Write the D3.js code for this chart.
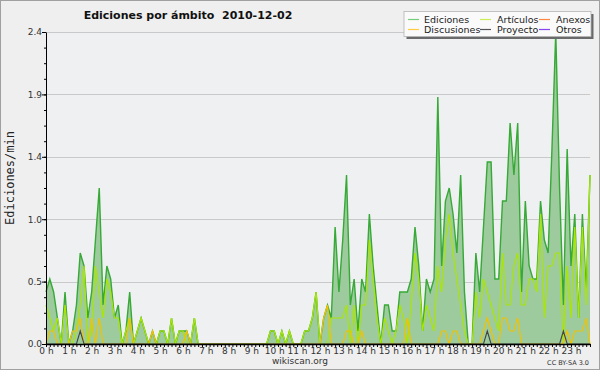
<!DOCTYPE html>
<html>
<head>
<meta charset="utf-8">
<script src="https://cdn.jsdelivr.net/npm/d3@7"></script>
<style>
  body { margin: 0; background: #fff; }
  svg { display: block; font-family: "DejaVu Sans", sans-serif; }
</style>
</head>
<body>
<div id="chart"></div>
<script>
// chart values, one point every 10 minutes (0 h 00 -> 23 h 50)
let hourLabels = ["0 h","1 h","2 h","3 h","4 h","5 h","6 h","7 h","8 h","9 h","10 h","11 h",
  "12 h","13 h","14 h","15 h","16 h","17 h","18 h","19 h","20 h","21 h","22 h","23 h"];

let yTickValues = [0, 0.48, 0.96, 1.44, 1.92, 2.4];
let yTickLabels = ["0.0", "0.5", "1.0", "1.4", "1.9", "2.4"];

let ediciones = [
  0.4,0.5,0.4,0.2,0,0.4,0,0.1,0.3,0.7,0.6,0.2,
  0.4,0.8,1.2,0.3,0.6,0.5,0.2,0.3,0,0.1,0.4,0,
  0.1,0.2,0.1,0,0.1,0,0.1,0.1,0,0.2,0,0.1,
  0.1,0.1,0,0.2,0,0,0,0,0,0,0,0,
  0,0,0,0,0,0,0,0,0,0,0,0.1,
  0.1,0,0.1,0,0.1,0,0,0,0.1,0.1,0.2,0.4,
  0,0.2,0.3,0.2,0.9,0.4,0.8,1.3,0.3,0.5,0.1,0.5,
  0.4,1.0,0.6,0.3,0,0.3,0.3,0.1,0.1,0.4,0.4,0.4,
  0.5,0.9,0.6,0.1,0.5,0.4,0.5,1.9,0.6,1.1,1.2,1.0,
  0.7,1.3,0.4,0,0,0.7,0.4,0.9,1.4,1.4,0.5,0.5,
  1.1,1.1,1.7,1.3,1.7,0.4,1.1,0.6,0.5,0.5,1.1,0.8,
  0.7,1.5,2.4,1.2,0.3,1.5,0.6,1.0,0.2,1.0,0.4,1.3
];

let articulos = [
  0.3,0.2,0.1,0.2,0,0.3,0,0,0.1,0.3,0.6,0,
  0.1,0.6,0.4,0.2,0.5,0.4,0.2,0.2,0,0.1,0.2,0,
  0.1,0.2,0.1,0,0,0,0.1,0.1,0,0.2,0,0.1,
  0.1,0,0,0.2,0,0,0,0,0,0,0,0,
  0,0,0,0,0,0,0,0,0,0,0,0.1,
  0.1,0,0.1,0,0.1,0,0,0,0.1,0.1,0.2,0.4,
  0,0,0,0.2,0.2,0.2,0.2,0.3,0,0.3,0,0.3,
  0.3,0.8,0.5,0.2,0,0.2,0.1,0,0.1,0.3,0.2,0,
  0.3,0.7,0.5,0.1,0.3,0.2,0.1,0.6,0.4,0.8,1.0,0.7,
  0.5,0.3,0.1,0,0,0.4,0.2,0.5,0.4,0.3,0.2,0.1,
  0.7,0.3,0.3,0.6,0.7,0.3,0.3,0.5,0.5,0.4,1.0,0.2,
  0.6,0.6,0.7,0.7,0,0.6,0.2,0.9,0.2,0.9,0.3,1.3
];

let discusiones = [
  0,0.1,0.1,0,0,0,0,0.1,0.1,0.2,0,0,
  0.2,0,0.2,0,0,0,0,0,0,0,0.2,0,
  0,0,0,0,0.1,0,0,0,0,0,0,0,
  0,0.1,0,0,0,0,0,0,0,0,0,0,
  0,0,0,0,0,0,0,0,0,0,0,0,
  0,0,0,0,0,0,0,0,0,0,0,0,
  0,0.2,0.3,0,0,0,0,0.1,0.1,0,0,0.1,
  0,0,0,0,0,0,0,0,0,0,0,0.2,
  0,0,0,0,0,0,0,0,0.1,0.1,0,0.1,
  0.1,0,0,0,0,0,0,0.1,0.2,0.1,0,0,
  0.2,0.2,0.1,0.1,0.2,0,0,0,0,0,0,0,
  0,0,0,0,0,0.1,0,0.1,0.1,0.1,0.2,0
];

let proyecto = [
  0,0,0,0,0,0,0,0,0,0.1,0,0,
  0,0,0,0,0,0,0,0,0,0,0,0,
  0,0,0,0,0,0,0,0,0,0,0,0,
  0,0,0,0,0,0,0,0,0,0,0,0,
  0,0,0,0,0,0,0,0,0,0,0,0,
  0,0,0,0,0,0,0,0,0,0,0,0,
  0,0,0,0,0,0,0,0,0,0,0,0,
  0,0,0,0,0,0,0,0,0,0,0,0,
  0,0,0,0,0,0,0,0,0,0,0,0,
  0,0,0,0,0,0,0,0,0.1,0,0,0,
  0,0,0,0,0,0,0,0,0,0,0,0,
  0,0,0,0,0.1,0,0,0,0,0,0,0
];

let legendNames = ["Ediciones", "Artículos", "Anexos", "Discusiones", "Proyecto", "Otros"];
let legendColors = ["#77cc77", "#ccee55", "#ff8844", "#ffcc44", "#555555", "#8844ee"];

// svg params
let svgWidth = 600;
let svgHeight = 370;

let margin = { top: 32, right: 10, bottom: 26, left: 46 };
let width = svgWidth - margin.left - margin.right;
let height = svgHeight - margin.top - margin.bottom;

let svg = d3.select("#chart")
  .append("svg")
  .attr("width", svgWidth)
  .attr("height", svgHeight);

// background + frame
svg.append("rect")
  .attr("x", 0.5).attr("y", 0.5)
  .attr("width", svgWidth - 1).attr("height", svgHeight - 1)
  .attr("fill", "#efefef")
  .attr("stroke", "#a0a0a0");

let chartGroup = svg.append("g")
  .attr("transform", `translate(${margin.left}, ${margin.top})`);

chartGroup.append("rect")
  .attr("width", width).attr("height", height)
  .attr("fill", "#eff0f2");

// scales
let xScale = d3.scaleLinear()
  .domain([0, ediciones.length - 1])
  .range([0, width]);

let yScale = d3.scaleLinear()
  .domain([0, 2.4])
  .range([height, 0]);

// grid lines
chartGroup.append("g")
  .selectAll("line")
  .data(yTickValues.slice(1))
  .enter()
  .append("line")
  .attr("x1", 0).attr("x2", width)
  .attr("y1", d => Math.round(yScale(d)) + 0.5)
  .attr("y2", d => Math.round(yScale(d)) + 0.5)
  .attr("stroke", "#c9c9c9");

// Ediciones area + lines
let area = d3.area()
  .x((d, i) => xScale(i))
  .y0(height)
  .y1(d => yScale(d));

let line = d3.line()
  .x((d, i) => xScale(i))
  .y(d => yScale(d));

chartGroup.append("path")
  .datum(ediciones)
  .attr("d", area)
  .attr("fill", "#9dcb9d");

chartGroup.append("path")
  .datum(ediciones)
  .attr("d", line)
  .attr("fill", "none")
  .attr("stroke", "#36a936")
  .attr("stroke-width", 1.4);

chartGroup.append("path")
  .datum(articulos)
  .attr("d", line)
  .attr("fill", "none")
  .attr("stroke", "#aae600")
  .attr("stroke-width", 1.2);

chartGroup.append("path")
  .datum(discusiones)
  .attr("d", line)
  .attr("fill", "none")
  .attr("stroke", "#f2c200")
  .attr("stroke-width", 1.2);

chartGroup.append("path")
  .datum(proyecto)
  .attr("d", line)
  .attr("fill", "none")
  .attr("stroke", "#444")
  .attr("stroke-width", 1.1);

// axes
let leftAxis = d3.axisLeft(yScale)
  .tickValues(yTickValues)
  .tickFormat((d, i) => yTickLabels[i])
  .tickSize(4)
  .tickPadding(0)
  .tickSizeOuter(0);

let minorAxis = d3.axisLeft(yScale)
  .tickValues(d3.range(0, 2.41, 0.12))
  .tickFormat("")
  .tickSize(2)
  .tickSizeOuter(0);

let bottomAxis = d3.axisBottom(xScale)
  .tickValues(d3.range(0, ediciones.length))
  .tickFormat("")
  .tickSize(3)
  .tickSizeOuter(0);

let hourAxis = d3.axisBottom(xScale)
  .tickValues(hourLabels.map((h, i) => i * 6))
  .tickFormat((d, i) => hourLabels[i])
  .tickSize(0)
  .tickPadding(3.6);

chartGroup.append("g").call(minorAxis)
  .call(g => g.select(".domain").remove());

let yAxisG = chartGroup.append("g").call(leftAxis);
yAxisG.selectAll("text").attr("font-size", 9).attr("fill", "#333").attr("font-family", "DejaVu Sans");

let xAxisG = chartGroup.append("g")
  .attr("transform", `translate(0, ${height})`)
  .call(bottomAxis);
xAxisG.select(".domain").attr("stroke-width", 1.5);

let hourG = chartGroup.append("g")
  .attr("transform", `translate(0, ${height})`)
  .call(hourAxis);
hourG.select(".domain").remove();
hourG.selectAll("text").attr("font-size", 9).attr("fill", "#333").attr("font-family", "DejaVu Sans");

// axis label
svg.append("text")
  .attr("transform", "rotate(-90)")
  .attr("x", -(margin.top + height / 2) + 10)
  .attr("y", 14)
  .attr("text-anchor", "middle")
  .attr("font-family", "DejaVu Sans Mono")
  .attr("font-size", 12)
  .attr("fill", "#222")
  .text("Ediciones/min");

// title
svg.append("text")
  .attr("x", 188)
  .attr("y", 19)
  .attr("text-anchor", "middle")
  .attr("font-weight", "bold")
  .attr("font-size", 11)
  .attr("fill", "#111")
  .text("Ediciones por ámbito  2010-12-02")
  .attr("xml:space", "preserve")
  .style("white-space", "pre");

// legend
let legend = svg.append("g").attr("transform", "translate(404, 11.5)");
legend.append("rect")
  .attr("x", 2.5).attr("y", 2.5)
  .attr("width", 187).attr("height", 25)
  .attr("fill", "#6a6a6a");
legend.append("rect")
  .attr("x", 0).attr("y", 0)
  .attr("width", 187).attr("height", 25)
  .attr("fill", "#fafafa")
  .attr("stroke", "#b5b5b5")
  .attr("stroke-width", 0.8);

let colX = [4, 76, 135];
let legendItems = legend.selectAll(".item")
  .data(legendNames)
  .enter()
  .append("g")
  .attr("transform", (d, i) => `translate(${colX[i % 3]}, ${i < 3 ? 8 : 18})`);

legendItems.append("line")
  .attr("x1", 0).attr("x2", 11)
  .attr("stroke", (d, i) => legendColors[i])
  .attr("stroke-width", 1.2);

legendItems.append("text")
  .attr("x", (d, i) => i % 3 === 0 ? 16 : 17)
  .attr("y", 3.5)
  .attr("font-size", 9.5)
  .attr("fill", "#222")
  .text(d => d);

// credits
svg.append("text")
  .attr("x", 300).attr("y", 364)
  .attr("text-anchor", "middle")
  .attr("font-size", 9)
  .attr("fill", "#333")
  .text("wikiscan.org");

svg.append("text")
  .attr("x", 589).attr("y", 365)
  .attr("text-anchor", "end")
  .attr("font-size", 6.5)
  .attr("fill", "#333")
  .text("CC BY-SA 3.0");
</script>
</body>
</html>
